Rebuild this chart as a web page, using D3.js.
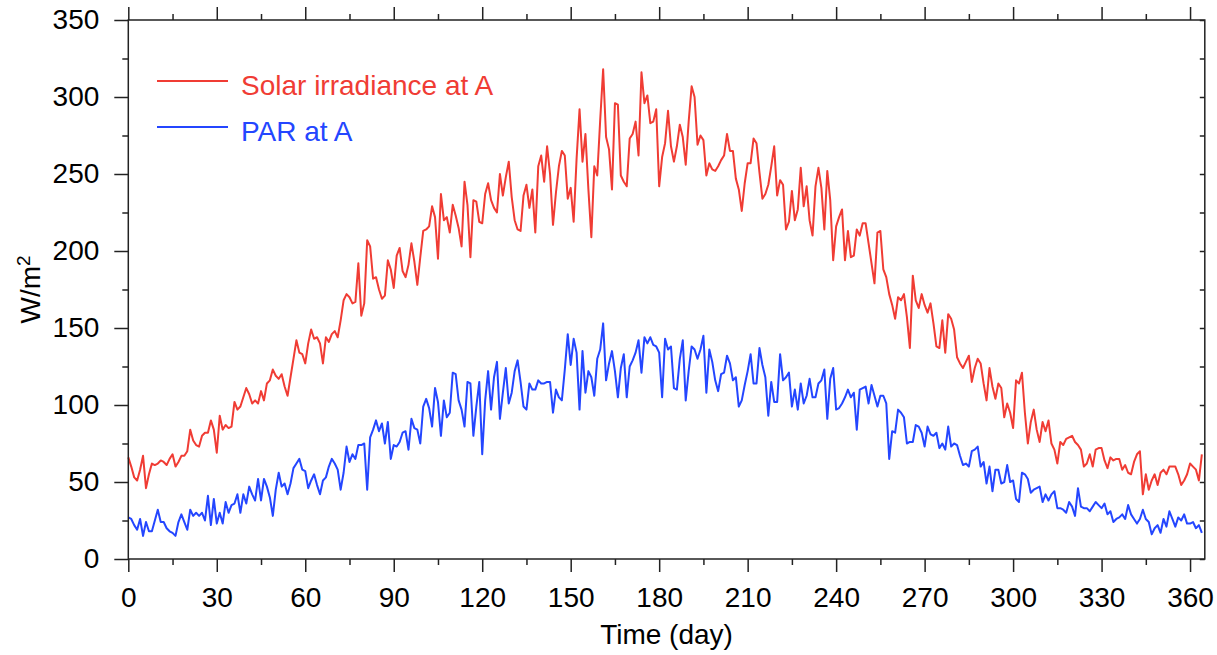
<!DOCTYPE html>
<html>
<head>
<meta charset="utf-8">
<script src="https://cdn.jsdelivr.net/npm/d3@7"></script>
<style>
  html, body { margin: 0; padding: 0; background: #fff; }
  svg { display: block; font-family: "Liberation Sans", Arial, Helvetica, sans-serif; }
</style>
</head>
<body>
<svg id="chart"></svg>
<script>
// daily values, day 0 .. 364
const solar = [
  66, 60, 53, 51, 58, 67, 46, 55, 62, 61,
  62, 64, 63, 61, 65, 68, 60, 63, 67, 67,
  70, 84, 77, 74, 73, 80, 82, 82, 90, 84,
  69, 93, 84, 87, 85, 86, 102, 97, 99, 105,
  111, 107, 101, 103, 101, 109, 103, 114, 116, 123,
  119, 117, 120, 112, 106, 118, 130, 142, 134, 133,
  127, 140, 149, 143, 144, 140, 127, 144, 141, 146,
  148, 144, 155, 168, 172, 170, 166, 167, 192, 158,
  166, 207, 203, 182, 183, 175, 169, 171, 194, 188,
  176, 197, 202, 187, 183, 191, 205, 193, 178, 196,
  213, 214, 216, 229, 222, 195, 237, 220, 222, 212,
  230, 223, 215, 203, 245, 230, 196, 233, 232, 219,
  218, 237, 244, 233, 228, 225, 250, 236, 248, 258,
  235, 220, 214, 213, 236, 243, 228, 240, 212, 255,
  262, 245, 268, 250, 217, 238, 255, 265, 262, 234,
  241, 219, 260, 292, 258, 276, 240, 209, 255, 249,
  285, 318, 274, 266, 240, 296, 295, 249, 245, 242,
  273, 276, 284, 262, 316, 296, 301, 283, 284, 292,
  242, 261, 270, 291, 268, 258, 268, 282, 274, 256,
  284, 307, 300, 269, 275, 272, 249, 257, 253, 252,
  255, 259, 262, 276, 265, 265, 247, 240, 226, 244,
  257, 257, 273, 270, 251, 234, 237, 243, 255, 268,
  236, 246, 243, 214, 219, 239, 220, 227, 254, 229,
  242, 220, 210, 242, 254, 241, 214, 252, 233, 194,
  216, 222, 227, 194, 213, 196, 197, 214, 210, 218,
  218, 205, 192, 179, 212, 213, 188, 183, 172, 165,
  156, 170, 168, 172, 157, 137, 184, 168, 163, 172,
  165, 160, 166, 153, 138, 137, 155, 134, 159, 156,
  149, 131, 127, 124, 128, 132, 115, 124, 130, 127,
  114, 103, 124, 112, 104, 114, 111, 92, 101, 95,
  85, 116, 114, 121, 95, 75, 89, 97, 84, 76,
  89, 83, 90, 75, 71, 62, 76, 74, 78, 79,
  80, 76, 74, 71, 60, 62, 68, 60, 71, 72,
  72, 64, 59, 66, 64, 65, 65, 58, 61, 56,
  55, 63, 68, 70, 42, 55, 45, 51, 55, 48,
  56, 58, 55, 60, 60, 60, 55, 48, 51, 55,
  62, 60, 58, 51, 68
];

const par = [
  27, 26, 22, 19, 26, 15, 24, 18, 18, 25,
  32, 24, 24, 20, 18, 17, 15, 24, 29, 24,
  19, 32, 28, 30, 28, 30, 25, 41, 22, 39,
  23, 30, 23, 37, 30, 35, 36, 42, 30, 42,
  36, 47, 42, 38, 52, 38, 52, 47, 40, 28,
  45, 56, 47, 49, 42, 49, 59, 62, 65, 58,
  57, 46, 51, 55, 48, 42, 51, 53, 60, 65,
  62, 58, 45, 56, 73, 63, 68, 65, 74, 74,
  75, 45, 79, 84, 90, 83, 88, 75, 89, 65,
  74, 73, 76, 82, 83, 71, 91, 85, 84, 75,
  99, 104, 98, 86, 111, 102, 80, 103, 92, 95,
  121, 120, 103, 97, 86, 115, 114, 80, 99, 115,
  68, 103, 122, 97, 118, 128, 91, 108, 124, 101,
  108, 122, 129, 115, 99, 97, 114, 110, 110, 116,
  114, 114, 115, 115, 95, 110, 105, 103, 123, 146,
  126, 143, 134, 97, 135, 108, 122, 118, 106, 130,
  136, 153, 116, 127, 135, 122, 105, 124, 133, 105,
  125, 129, 134, 142, 121, 144, 140, 144, 139, 138,
  134, 105, 143, 136, 138, 111, 110, 130, 142, 103,
  122, 138, 136, 130, 136, 145, 108, 136, 128, 116,
  109, 120, 121, 132, 127, 116, 118, 99, 103, 113,
  122, 133, 114, 114, 137, 126, 118, 93, 115, 102,
  102, 133, 116, 118, 121, 99, 110, 97, 114, 101,
  106, 117, 105, 105, 114, 116, 123, 91, 117, 124,
  97, 98, 101, 105, 110, 105, 108, 84, 110, 111,
  112, 101, 113, 106, 99, 106, 106, 101, 65, 83,
  82, 97, 95, 92, 75, 76, 76, 87, 86, 82,
  73, 86, 81, 80, 82, 72, 75, 71, 86, 73,
  75, 74, 67, 61, 62, 60, 70, 71, 73, 60,
  63, 49, 60, 44, 58, 58, 49, 50, 61, 50,
  51, 39, 37, 56, 55, 52, 43, 45, 46, 47,
  37, 42, 38, 42, 44, 33, 33, 32, 30, 37,
  34, 28, 46, 34, 33, 33, 31, 34, 37, 35,
  33, 36, 29, 31, 24, 26, 27, 29, 26, 35,
  29, 26, 23, 26, 32, 26, 24, 16, 20, 22,
  17, 26, 21, 31, 26, 21, 27, 25, 29, 23,
  23, 24, 20, 22, 17
];

const xMajor = d3.range(0, 361, 30);
const xMinor = d3.range(15, 365, 30);
const yMajor = d3.range(0, 351, 50);
const yMinor = d3.range(25, 350, 50);

const seriesNames = ["Solar irradiance at A", "PAR at A"];
const seriesColors = ["#f03c34", "#2446ff"];

const dims = {
  width: 1217,
  height: 655,
  margin: { top: 20, right: 12.2, bottom: 96, left: 128.3 }
};
dims.boundedWidth = dims.width - dims.margin.left - dims.margin.right;
dims.boundedHeight = dims.height - dims.margin.top - dims.margin.bottom;

const svg = d3.select("#chart")
  .attr("width", dims.width)
  .attr("height", dims.height);

const bounds = svg.append("g")
  .attr("transform", `translate(${dims.margin.left},${dims.margin.top})`);

const xScale = d3.scaleLinear()
  .domain([0, 365])
  .range([0, dims.boundedWidth]);

const yScale = d3.scaleLinear()
  .domain([0, 350])
  .range([dims.boundedHeight, 0]);

const axisColor = "#222";
const fontSize = 28;

// lines
const line = d3.line()
  .x((d, i) => xScale(i))
  .y(d => yScale(d));

[solar, par].forEach((data, k) => {
  bounds.append("path")
    .datum(data)
    .attr("fill", "none")
    .attr("stroke", seriesColors[k])
    .attr("stroke-width", 2)
    .attr("stroke-linejoin", "round")
    .attr("d", line);
});

// frame
bounds.append("rect")
  .attr("width", dims.boundedWidth)
  .attr("height", dims.boundedHeight)
  .attr("fill", "none")
  .attr("stroke", axisColor)
  .attr("stroke-width", 1.5);

function styleAxis(g) {
  g.select(".domain").remove();
  g.selectAll(".tick line").attr("stroke", axisColor).attr("stroke-width", 1.5);
  g.selectAll(".tick text")
    .attr("fill", "#000")
    .style("font-size", fontSize + "px");
}

// bottom
bounds.append("g")
  .attr("transform", `translate(0,${dims.boundedHeight})`)
  .call(d3.axisBottom(xScale).tickValues(xMajor).tickSize(13).tickPadding(15).tickFormat(d3.format("d")))
  .call(styleAxis);
bounds.append("g")
  .attr("transform", `translate(0,${dims.boundedHeight})`)
  .call(d3.axisBottom(xScale).tickValues(xMinor).tickSize(6).tickFormat(""))
  .call(styleAxis);

// top
bounds.append("g")
  .call(d3.axisTop(xScale).tickValues(xMajor).tickSize(13).tickFormat(""))
  .call(styleAxis);
bounds.append("g")
  .call(d3.axisTop(xScale).tickValues(xMinor).tickSize(6).tickFormat(""))
  .call(styleAxis);

// left
bounds.append("g")
  .call(d3.axisLeft(yScale).tickValues(yMajor).tickSize(14).tickPadding(15).tickFormat(d3.format("d")))
  .call(styleAxis);
bounds.append("g")
  .call(d3.axisLeft(yScale).tickValues(yMinor).tickSize(6).tickFormat(""))
  .call(styleAxis);

// right (ticks point inward)
bounds.append("g")
  .attr("transform", `translate(${dims.boundedWidth},0)`)
  .call(d3.axisRight(yScale).tickValues(yMajor.concat(yMinor)).tickSize(-5).tickFormat(""))
  .call(styleAxis);

// axis titles
svg.append("text")
  .attr("x", dims.margin.left + dims.boundedWidth / 2)
  .attr("y", 644)
  .attr("text-anchor", "middle")
  .style("font-size", fontSize + "px")
  .text("Time (day)");

const yTitle = svg.append("text")
  .attr("transform", `translate(40,${dims.margin.top + dims.boundedHeight / 2}) rotate(-90)`)
  .attr("text-anchor", "middle")
  .style("font-size", fontSize + "px");
yTitle.append("tspan").text("W/m");
yTitle.append("tspan").attr("dy", -10).style("font-size", "19px").text("2");

// legend
const legend = svg.append("g");
seriesNames.forEach((name, k) => {
  const ly = 81 + k * 46;
  legend.append("line")
    .attr("x1", 157).attr("x2", 228)
    .attr("y1", ly).attr("y2", ly)
    .attr("stroke", seriesColors[k])
    .attr("stroke-width", 2);
  legend.append("text")
    .attr("x", 241)
    .attr("y", ly + 14)
    .attr("fill", seriesColors[k])
    .style("font-size", fontSize + "px")
    .text(name);
});
</script>
</body>
</html>
